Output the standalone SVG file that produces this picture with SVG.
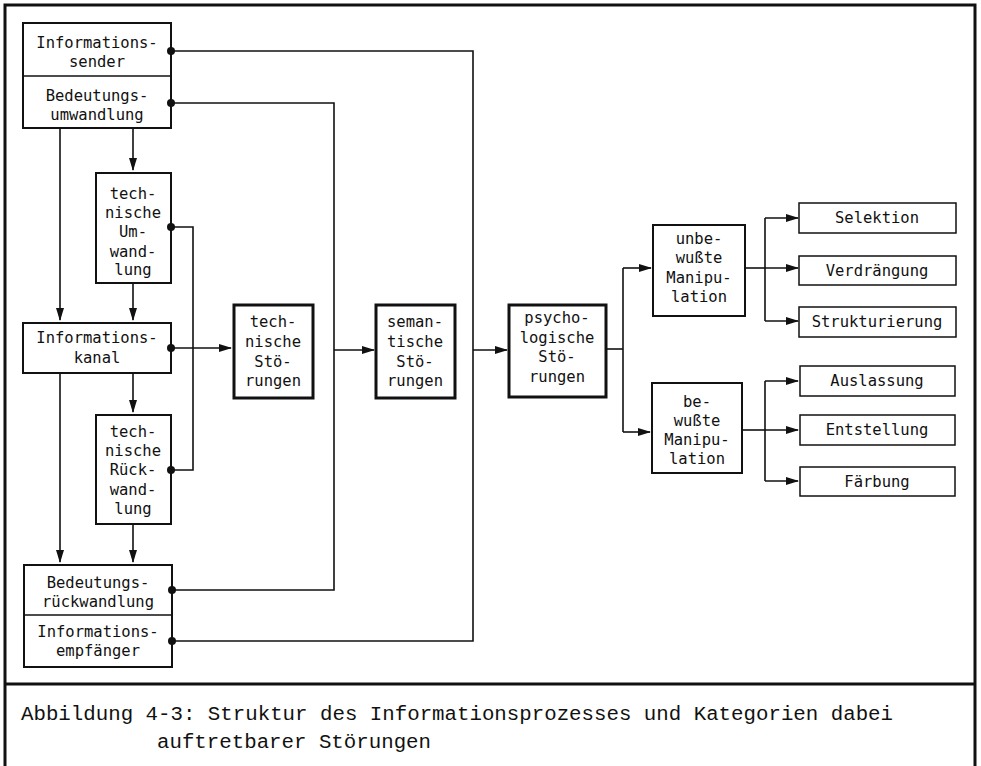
<svg xmlns="http://www.w3.org/2000/svg" width="981" height="766" viewBox="0 0 981 766">
  <style>
    .frame { fill: none; stroke: #111; stroke-width: 3; }
    .box { fill: #fff; stroke: #111; stroke-width: 2; }
    .box-bold { fill: #fff; stroke: #111; stroke-width: 3; }
    .box-thin { fill: #fff; stroke: #111; stroke-width: 1.5; }
    .div { stroke: #111; stroke-width: 1.5; }
    .lbl { font-family: "DejaVu Sans Mono", "Liberation Mono", monospace; font-size: 15.5px; fill: #111; text-anchor: middle; }
    .cap { font-family: "Liberation Mono", "DejaVu Sans Mono", monospace; font-size: 20.5px; fill: #111; }
    .wire { fill: none; stroke: #111; stroke-width: 1.6; }
    .arr { fill: none; stroke: #111; stroke-width: 1.6; marker-end: url(#ah); }
    .dot { fill: #111; }
  </style>
  <defs>
    <marker id="ah" markerUnits="userSpaceOnUse" markerWidth="13" markerHeight="8" refX="12" refY="4" orient="auto">
      <path d="M0,0 L13,4 L0,8 z" fill="#111"/>
    </marker>
  </defs>

  <rect width="981" height="766" fill="#fff"/>

  <!-- outer frame with caption panel -->
  <g id="frame">
    <path class="frame" d="M5,766 L5,5 L975,5 L975,766"/>
    <line class="frame" x1="5" y1="684" x2="975" y2="684"/>
  </g>

  <!-- sender / meaning conversion -->
  <g id="sender">
    <rect class="box" x="23" y="23" width="148" height="105"/>
    <line class="div" x1="23" y1="76" x2="171" y2="76"/>
    <text class="lbl" x="97" y="48">Informations-</text>
    <text class="lbl" x="97" y="67">sender</text>
    <text class="lbl" x="97" y="101">Bedeutungs-</text>
    <text class="lbl" x="97" y="120">umwandlung</text>
  </g>

  <g id="tech-umwandlung">
    <rect class="box" x="96" y="173" width="75" height="110"/>
    <text class="lbl" x="133" y="199">tech-</text>
    <text class="lbl" x="133" y="218">nische</text>
    <text class="lbl" x="133" y="237">Um-</text>
    <text class="lbl" x="133" y="257">wand-</text>
    <text class="lbl" x="133" y="275">lung</text>
  </g>

  <g id="kanal">
    <rect class="box" x="23" y="323" width="148" height="50"/>
    <text class="lbl" x="97" y="343">Informations-</text>
    <text class="lbl" x="97" y="363">kanal</text>
  </g>

  <g id="tech-rueckwandlung">
    <rect class="box" x="96" y="415" width="75" height="109"/>
    <text class="lbl" x="133" y="437">tech-</text>
    <text class="lbl" x="133" y="456">nische</text>
    <text class="lbl" x="133" y="475">Rück-</text>
    <text class="lbl" x="133" y="495">wand-</text>
    <text class="lbl" x="133" y="514">lung</text>
  </g>

  <g id="empfaenger">
    <rect class="box" x="24" y="565" width="148" height="102"/>
    <line class="div" x1="24" y1="615" x2="172" y2="615"/>
    <text class="lbl" x="98" y="588">Bedeutungs-</text>
    <text class="lbl" x="98" y="607">rückwandlung</text>
    <text class="lbl" x="98" y="637">Informations-</text>
    <text class="lbl" x="98" y="656">empfänger</text>
  </g>

  <!-- disturbance categories -->
  <g id="tech-stoerungen">
    <rect class="box-bold" x="234" y="305" width="79" height="93"/>
    <text class="lbl" x="273" y="327">tech-</text>
    <text class="lbl" x="273" y="347">nische</text>
    <text class="lbl" x="273" y="367">Stö-</text>
    <text class="lbl" x="273" y="386">rungen</text>
  </g>

  <g id="sem-stoerungen">
    <rect class="box-bold" x="376" y="305" width="79" height="93"/>
    <text class="lbl" x="415" y="327">seman-</text>
    <text class="lbl" x="415" y="347">tische</text>
    <text class="lbl" x="415" y="367">Stö-</text>
    <text class="lbl" x="415" y="386">rungen</text>
  </g>

  <g id="psych-stoerungen">
    <rect class="box-bold" x="509" y="305" width="97" height="92"/>
    <text class="lbl" x="557" y="323">psycho-</text>
    <text class="lbl" x="557" y="343">logische</text>
    <text class="lbl" x="557" y="362">Stö-</text>
    <text class="lbl" x="557" y="382">rungen</text>
  </g>

  <g id="unbewusst">
    <rect class="box" x="653" y="225" width="92" height="91"/>
    <text class="lbl" x="699" y="244">unbe-</text>
    <text class="lbl" x="699" y="263">wußte</text>
    <text class="lbl" x="699" y="283">Manipu-</text>
    <text class="lbl" x="699" y="302">lation</text>
  </g>

  <g id="bewusst">
    <rect class="box" x="652" y="383" width="90" height="90"/>
    <text class="lbl" x="697" y="407">be-</text>
    <text class="lbl" x="697" y="426">wußte</text>
    <text class="lbl" x="697" y="445">Manipu-</text>
    <text class="lbl" x="697" y="464">lation</text>
  </g>

  <!-- manipulation techniques -->
  <g id="selektion">
    <rect class="box-thin" x="799" y="203" width="157" height="30"/>
    <text class="lbl" x="877" y="223">Selektion</text>
  </g>
  <g id="verdraengung">
    <rect class="box-thin" x="799" y="256" width="157" height="29"/>
    <text class="lbl" x="877" y="276">Verdrängung</text>
  </g>
  <g id="strukturierung">
    <rect class="box-thin" x="799" y="307" width="157" height="30"/>
    <text class="lbl" x="877" y="327">Strukturierung</text>
  </g>
  <g id="auslassung">
    <rect class="box-thin" x="800" y="366" width="155" height="30"/>
    <text class="lbl" x="877" y="386">Auslassung</text>
  </g>
  <g id="entstellung">
    <rect class="box-thin" x="800" y="415" width="155" height="30"/>
    <text class="lbl" x="877" y="435">Entstellung</text>
  </g>
  <g id="faerbung">
    <rect class="box-thin" x="800" y="467" width="155" height="29"/>
    <text class="lbl" x="877" y="487">Färbung</text>
  </g>

  <!-- connectors (drawn on top so the junction dots sit on the box edges) -->
  <g id="connectors">
    <!-- vertical flow on the left -->
    <line class="arr" x1="60" y1="128" x2="60" y2="320"/>
    <line class="arr" x1="60" y1="373" x2="60" y2="562"/>
    <line class="arr" x1="133" y1="128" x2="133" y2="170"/>
    <line class="arr" x1="133" y1="283" x2="133" y2="320"/>
    <line class="arr" x1="133" y1="373" x2="133" y2="412"/>
    <line class="arr" x1="133" y1="524" x2="133" y2="562"/>

    <!-- technical feedback loop -->
    <polyline class="wire" points="171,227 193,227 193,470 171,470"/>
    <line class="arr" x1="171" y1="348" x2="231" y2="348"/>

    <!-- semantic loop -->
    <polyline class="wire" points="171,103 334,103 334,590 172,590"/>
    <line class="arr" x1="334" y1="350" x2="374" y2="350"/>

    <!-- psychological loop -->
    <polyline class="wire" points="171,51 473,51 473,641 172,641"/>
    <line class="arr" x1="473" y1="350" x2="507" y2="350"/>

    <!-- psychological split -->
    <line class="wire" x1="606" y1="349" x2="623" y2="349"/>
    <line class="wire" x1="623" y1="268" x2="623" y2="432"/>
    <line class="arr" x1="623" y1="268" x2="651" y2="268"/>
    <line class="arr" x1="623" y1="432" x2="650" y2="432"/>

    <!-- unconscious manipulation branches -->
    <line class="wire" x1="745" y1="268" x2="765" y2="268"/>
    <line class="wire" x1="765" y1="218" x2="765" y2="321"/>
    <line class="arr" x1="765" y1="218" x2="798" y2="218"/>
    <line class="arr" x1="765" y1="268" x2="798" y2="268"/>
    <line class="arr" x1="765" y1="321" x2="798" y2="321"/>

    <!-- conscious manipulation branches -->
    <line class="wire" x1="742" y1="430" x2="765" y2="430"/>
    <line class="wire" x1="765" y1="381" x2="765" y2="481"/>
    <line class="arr" x1="765" y1="381" x2="798" y2="381"/>
    <line class="arr" x1="765" y1="430" x2="798" y2="430"/>
    <line class="arr" x1="765" y1="481" x2="798" y2="481"/>

    <!-- junction dots -->
    <circle class="dot" cx="171" cy="51" r="4"/>
    <circle class="dot" cx="171" cy="103" r="4"/>
    <circle class="dot" cx="171" cy="227" r="4"/>
    <circle class="dot" cx="171" cy="348" r="4"/>
    <circle class="dot" cx="171" cy="470" r="4"/>
    <circle class="dot" cx="172" cy="590" r="4"/>
    <circle class="dot" cx="172" cy="641" r="4"/>
  </g>

  <!-- caption -->
  <g id="caption">
    <text class="cap" x="21" y="720" textLength="872" lengthAdjust="spacingAndGlyphs">Abbildung 4-3: Struktur des Informationsprozesses und Kategorien dabei</text>
    <text class="cap" x="157" y="748" textLength="274" lengthAdjust="spacingAndGlyphs">auftretbarer Störungen</text>
  </g>
</svg>
